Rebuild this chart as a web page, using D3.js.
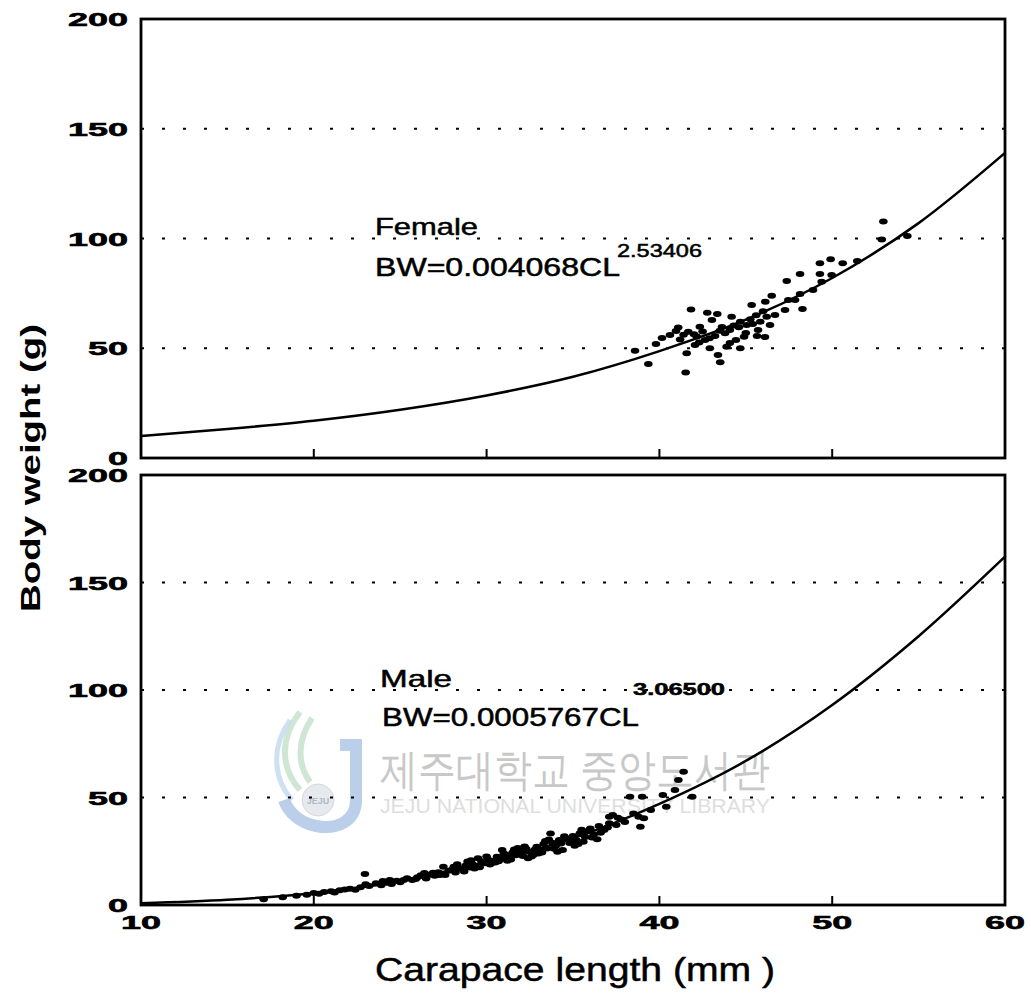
<!DOCTYPE html>
<html>
<head>
<meta charset="utf-8">
<script src="https://cdn.jsdelivr.net/npm/d3@7"></script>
<style>
body { margin: 0; background: #fff; }
text { font-family: "Liberation Sans", Arial, sans-serif; }
</style>
</head>
<body>
<svg id="chart" width="1031" height="999"></svg>
<script>
// axis ticks
var xTicks = [10, 20, 30, 40, 50, 60];
var yTicks = [0, 50, 100, 150, 200];
var gridTicks = [50, 100, 150];

// fitted curves [CL, BW]
var femaleCurve = [[10, 10.0], [15, 13.2], [20, 17.0], [25, 22.0], [30, 28.5], [35, 37.0],
  [40, 48.7], [45, 63.0], [50, 82.0], [55, 107.0], [60, 139.0]];
var maleCurve = [[10, 0.8], [15, 2.4], [20, 5.6], [25, 11.0], [30, 19.8], [35, 31.0],
  [40, 47.0], [45, 67.0], [50, 93.0], [55, 125.0], [60, 162.0]];

// observations [CL, BW]
var femalePoints = [[52.96, 107.7], [52.87, 99.6], [54.35, 101.1], [49.29, 88.7], [49.91, 90.5],
  [50.61, 88.7], [51.45, 89.7], [49.29, 83.8], [49.97, 83.4], [48.14, 83.8], [47.37, 80.6],
  [49.39, 80.3], [48.14, 74.7], [46.50, 73.9], [47.46, 72.0], [46.13, 71.2], [45.34, 69.7],
  [48.28, 67.9], [41.83, 67.7], [42.77, 66.2], [43.35, 65.6], [44.18, 64.4], [41.09, 59.5],
  [40.61, 56.0], [39.80, 51.9], [38.59, 48.9], [41.58, 47.7], [39.36, 42.8], [43.52, 43.6],
  [41.52, 39.0], [45.65, 55.6], [46.40, 60.6], [44.68, 50.0], [43.89, 50.7], [42.92, 50.0],
  [42.34, 59.8], [41.67, 57.5], [42.16, 55.3], [42.64, 53.8], [44.68, 62.1], [45.26, 63.2],
  [45.84, 62.1], [46.21, 64.4], [45.05, 60.6], [44.08, 58.3], [43.22, 55.6], [45.71, 58.3],
  [43.62, 59.7], [42.06, 51.5], [40.15, 54.7], [40.96, 57.9], [43.04, 62.9], [44.43, 53.8],
  [46.11, 55.1], [46.69, 65.1], [47.27, 67.4], [47.85, 72.0], [48.89, 76.5], [43.39, 46.9],
  [44.08, 52.4], [45.0, 57.0], [44.6, 59.6], [43.8, 56.8], [42.5, 57.6], [41.2, 54.0],
  [42.0, 56.4], [42.9, 54.6], [43.5, 58.0], [44.3, 60.4], [45.4, 61.0], [44.9, 55.2],
  [42.3, 52.6], [41.4, 56.2], [46.0, 66.8], [45.6, 65.0]];

var malePoints = [[17.1, 2.7], [18.2, 3.6], [19.0, 4.3], [19.6, 4.8], [20.0, 5.6], [20.3, 5.2],
  [20.6, 6.1], [21.0, 6.4], [21.2, 5.8], [21.5, 6.9], [21.8, 7.2], [22.1, 7.6], [22.4, 7.1],
  [22.7, 8.3], [22.96, 14.4], [23.2, 8.8], [23.6, 10.1], [23.9, 9.2], [24.0, 11.2], [24.2, 10.4],
  [24.5, 9.8], [24.8, 11.3], [25.0, 10.6], [25.4, 12.4], [25.7, 11.6], [26.0, 12.9], [26.2, 13.8],
  [26.4, 14.9], [26.5, 12.3], [26.7, 14.1], [27.0, 13.6], [27.2, 15.2], [27.5, 17.8], [27.5, 14.6],
  [27.6, 13.9], [27.8, 15.9], [28.0, 16.4], [28.1, 17.8], [28.2, 15.1], [28.4, 17.2], [28.6, 16.6],
  [28.8, 18.4], [28.9, 20.2], [29.0, 17.5], [29.2, 19.0], [29.3, 17.0], [29.5, 21.7], [29.5, 18.2],
  [29.7, 20.3], [29.9, 19.4], [30.1, 21.1], [30.2, 18.8], [30.4, 20.6], [30.5, 19.8], [30.6, 22.4],
  [30.9, 25.6], [30.9, 21.5], [31.1, 23.2], [31.2, 20.6], [31.3, 22.0], [31.5, 24.4], [31.7, 23.1],
  [31.8, 26.5], [31.9, 25.2], [32.1, 22.8], [32.3, 26.0], [32.4, 21.8], [32.5, 24.6], [32.7, 23.3],
  [32.9, 27.1], [33.0, 23.9], [33.1, 25.5], [33.3, 28.4], [33.5, 26.3], [33.6, 30.5], [33.7, 33.3],
  [33.8, 29.0], [34.0, 27.4], [34.1, 24.8], [34.2, 30.2], [34.4, 25.6], [34.6, 31.0], [34.8, 28.8],
  [35.0, 32.1], [35.1, 27.6], [35.2, 30.1], [35.4, 33.4], [35.6, 29.4], [35.7, 31.6], [35.8, 34.2],
  [36.0, 35.6], [36.2, 32.8], [36.4, 30.6], [36.5, 36.7], [36.8, 34.9], [37.1, 41.1], [37.1, 38.0],
  [37.3, 41.9], [37.5, 37.2], [37.8, 39.8], [38.3, 50.4], [38.8, 41.1], [38.9, 36.4], [39.0, 50.4],
  [39.1, 40.3], [39.5, 44.2], [40.2, 51.2], [40.4, 45.7], [40.9, 53.5], [41.1, 58.1], [41.4, 62.0],
  [41.9, 50.4], [25.2, 11.6], [25.9, 12.1], [26.9, 15.0], [27.3, 14.0], [28.3, 18.9], [28.7, 15.6],
  [29.1, 20.8], [29.6, 17.6], [30.0, 22.6], [30.3, 19.6], [30.7, 20.4], [31.0, 24.0], [31.4, 21.2],
  [31.6, 25.8], [32.0, 24.0], [32.2, 27.2], [32.6, 22.6], [32.8, 25.8], [33.2, 24.4], [33.4, 29.8],
  [33.9, 26.2], [34.3, 28.6], [34.5, 32.0], [34.9, 30.0], [35.3, 28.4], [35.5, 35.0], [36.1, 31.4],
  [36.6, 33.6], [37.0, 36.0], [37.6, 40.6], [38.0, 38.6], [38.5, 42.6], [23.0, 9.6], [24.4, 11.6]];

var svg = d3.select("#chart");
var left = 141, right = 1005;
var x = d3.scaleLinear().domain([10, 60]).range([left, right]);
var yTop = d3.scaleLinear().domain([0, 200]).range([458, 19]);
var yBot = d3.scaleLinear().domain([0, 200]).range([905, 475]);

// faint library watermark from the scan
var wm = svg.append("g").attr("class", "watermark");
wm.append("path")
  .attr("d", "M300,712 C278,740 282,770 300,790 M312,718 C296,742 298,765 310,782")
  .attr("fill", "none").attr("stroke", "#c2e0c8").attr("stroke-width", 6).attr("opacity", 0.8);
wm.append("path")
  .attr("d", "M290,720 C270,748 274,780 292,800")
  .attr("fill", "none").attr("stroke", "#c2daf0").attr("stroke-width", 5).attr("opacity", 0.8);
wm.append("path")
  .attr("d", "M340,745 L356,745 L356,800 C356,822 336,830 316,826 C300,823 288,812 284,800")
  .attr("fill", "none").attr("stroke", "#bccfea").attr("stroke-width", 12);
wm.append("circle").attr("cx", 318).attr("cy", 800).attr("r", 16)
  .attr("fill", "#e6eaee").attr("stroke", "#d3d9de");
wm.append("text").attr("x", 318).attr("y", 804).attr("text-anchor", "middle")
  .attr("font-size", 9).attr("font-weight", "bold").attr("fill", "#b0b9c3").text("JEJU");
wm.append("text").attr("x", 380).attr("y", 785)
  .attr("font-family", "'Noto Sans CJK KR'").attr("font-size", 44)
  .attr("textLength", 390).attr("lengthAdjust", "spacingAndGlyphs")
  .attr("fill", "#c8c8c8").text("제주대학교 중앙도서관");
wm.append("text").attr("x", 380).attr("y", 813)
  .attr("font-size", 21).attr("textLength", 390).attr("lengthAdjust", "spacingAndGlyphs")
  .attr("fill", "#dedede").text("JEJU NATIONAL UNIVERSITY LIBRARY");

function drawPanel(y, curve, points, showX) {
  var g = svg.append("g");
  var top = y.range()[1], bottom = y.range()[0];

  g.selectAll(".grid").data(gridTicks).enter().append("line")
    .attr("x1", left).attr("x2", right)
    .attr("y1", function (d) { return y(d); }).attr("y2", function (d) { return y(d); })
    .attr("stroke", "#000").attr("stroke-width", 2).attr("stroke-dasharray", "3,18");

  // inward ticks on the bottom edge
  g.selectAll(".xt").data(xTicks.slice(1, -1)).enter().append("line")
    .attr("x1", function (d) { return x(d); }).attr("x2", function (d) { return x(d); })
    .attr("y1", bottom).attr("y2", bottom - 9)
    .attr("stroke", "#000").attr("stroke-width", 2);

  g.append("rect").attr("x", left).attr("y", top)
    .attr("width", right - left).attr("height", bottom - top)
    .attr("fill", "none").attr("stroke", "#000").attr("stroke-width", 2.8);

  g.selectAll(".yl").data(yTicks).enter().append("text")
    .attr("x", 128).attr("y", function (d) { return y(d) + 7; })
    .attr("text-anchor", "end").attr("font-size", 19).attr("font-weight", "bold")
    .attr("stroke", "#000").attr("stroke-width", 0.6)
    .attr("textLength", function (d) { return String(d).length * 20; })
    .attr("lengthAdjust", "spacingAndGlyphs")
    .text(function (d) { return d; });

  if (showX) {
    g.selectAll(".xl").data(xTicks).enter().append("text")
      .attr("x", function (d) { return x(d); }).attr("y", bottom + 24)
      .attr("text-anchor", "middle").attr("font-size", 19).attr("font-weight", "bold")
      .attr("stroke", "#000").attr("stroke-width", 0.6)
      .attr("textLength", 40).attr("lengthAdjust", "spacingAndGlyphs")
      .text(function (d) { return d; });
  }

  var line = d3.line()
    .x(function (d) { return x(d[0]); })
    .y(function (d) { return y(d[1]); })
    .curve(d3.curveMonotoneX);
  g.append("path").datum(curve).attr("d", line)
    .attr("fill", "none").attr("stroke", "#000").attr("stroke-width", 2.5);

  g.selectAll(".pt").data(points).enter().append("ellipse")
    .attr("cx", function (d) { return x(d[0]); })
    .attr("cy", function (d) { return y(d[1]); })
    .attr("rx", 4.3).attr("ry", 3).attr("fill", "#000");
  return g;
}

drawPanel(yTop, femaleCurve, femalePoints, false);
drawPanel(yBot, maleCurve, malePoints, true);

// equations
function label(px, py, txt, size, len, weight) {
  svg.append("text").attr("x", px).attr("y", py)
    .attr("font-size", size).attr("font-weight", weight || "normal")
    .attr("stroke", "#000").attr("stroke-width", 0.5)
    .attr("textLength", len).attr("lengthAdjust", "spacingAndGlyphs")
    .text(txt);
}
label(375, 235, "Female", 24, 103);
label(375, 276, "BW=0.004068CL", 25, 245);
label(617, 257, "2.53406", 18, 85);
label(380, 687, "Male", 24, 72);
label(382, 726, "BW=0.0005767CL", 25, 257);
label(633, 695, "3.06500", 16, 92, "bold");

// axis titles
svg.append("text")
  .attr("transform", "translate(40,468) rotate(-90)")
  .attr("text-anchor", "middle").attr("font-size", 28).attr("font-weight", "bold")
  .attr("textLength", 288).attr("lengthAdjust", "spacingAndGlyphs")
  .text("Body weight (g)");
svg.append("text")
  .attr("x", 575).attr("y", 981).attr("text-anchor", "middle")
  .attr("font-size", 33).attr("stroke", "#000").attr("stroke-width", 0.5)
  .attr("textLength", 400).attr("lengthAdjust", "spacingAndGlyphs")
  .text("Carapace length (mm )");
</script>
</body>
</html>
